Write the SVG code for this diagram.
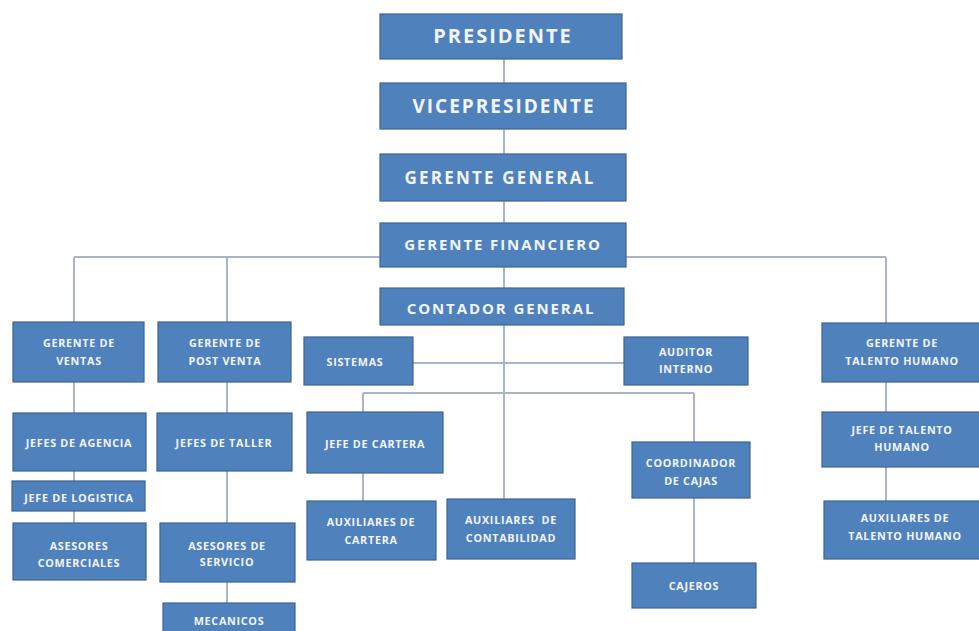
<svg xmlns="http://www.w3.org/2000/svg" width="979" height="631" viewBox="0 0 979 631">
<style>
.n rect{fill:#4F81BD;stroke:#3B6593;stroke-width:1.2}
.n text{fill:#F2F5FA;font-family:"Open Sans","Liberation Sans",sans-serif;font-weight:bold;text-anchor:middle;white-space:pre}
.s text{font-size:10.8px;letter-spacing:0.7px}
.c line{stroke:#A9B6C9;stroke-width:2}
</style>
<rect width="979" height="631" fill="#FFFFFF"/>
<g id="connectors" class="c">
<line x1="504" y1="59" x2="504" y2="499"/>
<line x1="74" y1="257" x2="886" y2="257"/>
<line x1="74" y1="257" x2="74" y2="523"/>
<line x1="227" y1="257" x2="227" y2="603"/>
<line x1="886" y1="257" x2="886" y2="501"/>
<line x1="413" y1="363" x2="624" y2="363"/>
<line x1="363" y1="393" x2="694" y2="393"/>
<line x1="363" y1="393" x2="363" y2="501"/>
<line x1="694" y1="393" x2="694" y2="563"/>
</g>
<g id="presidente" class="n"><rect x="380" y="14" width="242" height="45"/><text x="503" y="43" font-size="20" letter-spacing="2">PRESIDENTE</text></g>
<g id="vicepresidente" class="n"><rect x="380" y="83" width="246" height="46"/><text x="504" y="113" font-size="19" letter-spacing="2">VICEPRESIDENTE</text></g>
<g id="gerente-general" class="n"><rect x="380" y="154" width="246" height="47"/><text x="500" y="184" font-size="17" letter-spacing="2.2">GERENTE GENERAL</text></g>
<g id="gerente-financiero" class="n"><rect x="380" y="223" width="246" height="44"/><text x="503" y="250" font-size="15" letter-spacing="1.9">GERENTE FINANCIERO</text></g>
<g id="contador-general" class="n"><rect x="380" y="288" width="244" height="37"/><text x="501" y="314" font-size="15" letter-spacing="1.9">CONTADOR GENERAL</text></g>
<g id="gerente-ventas" class="n s"><rect x="13" y="322" width="131" height="60"/><text x="79" y="347">GERENTE DE</text><text x="79" y="365">VENTAS</text></g>
<g id="gerente-post-venta" class="n s"><rect x="158" y="322" width="133" height="60"/><text x="225" y="347">GERENTE DE</text><text x="225" y="365">POST VENTA</text></g>
<g id="jefes-agencia" class="n s"><rect x="13" y="413" width="133" height="58"/><text x="79" y="447">JEFES DE AGENCIA</text></g>
<g id="jefes-taller" class="n s"><rect x="157" y="413" width="135" height="58"/><text x="224" y="447">JEFES DE TALLER</text></g>
<g id="jefe-logistica" class="n s"><rect x="12" y="481" width="133" height="30"/><text x="79" y="502">JEFE DE LOGISTICA</text></g>
<g id="asesores-comerciales" class="n s"><rect x="13" y="523" width="133" height="57"/><text x="79" y="550">ASESORES</text><text x="79" y="567">COMERCIALES</text></g>
<g id="asesores-servicio" class="n s"><rect x="160" y="523" width="135" height="59"/><text x="227" y="550">ASESORES DE</text><text x="227" y="566">SERVICIO</text></g>
<g id="mecanicos" class="n s"><rect x="163" y="603" width="132" height="34"/><text x="229" y="625">MECANICOS</text></g>
<g id="sistemas" class="n s"><rect x="304" y="337" width="109" height="48"/><text x="355" y="366">SISTEMAS</text></g>
<g id="auditor-interno" class="n s"><rect x="624" y="337" width="124" height="48"/><text x="686" y="356">AUDITOR</text><text x="686" y="373">INTERNO</text></g>
<g id="jefe-cartera" class="n s"><rect x="307" y="412" width="136" height="61"/><text x="375" y="448">JEFE DE CARTERA</text></g>
<g id="auxiliares-cartera" class="n s"><rect x="307" y="501" width="129" height="59"/><text x="371" y="526">AUXILIARES DE</text><text x="371" y="544">CARTERA</text></g>
<g id="auxiliares-contabilidad" class="n s"><rect x="447" y="499" width="128" height="60"/><text x="511" y="524">AUXILIARES  DE</text><text x="511" y="542">CONTABILIDAD</text></g>
<g id="coordinador-cajas" class="n s"><rect x="632" y="442" width="118" height="56"/><text x="691" y="467">COORDINADOR</text><text x="691" y="485">DE CAJAS</text></g>
<g id="cajeros" class="n s"><rect x="632" y="563" width="124" height="45"/><text x="694" y="590">CAJEROS</text></g>
<g id="gerente-talento" class="n s"><rect x="822" y="323" width="160" height="59"/><text x="902" y="347">GERENTE DE</text><text x="902" y="365">TALENTO HUMANO</text></g>
<g id="jefe-talento" class="n s"><rect x="822" y="412" width="160" height="55"/><text x="902" y="434">JEFE DE TALENTO</text><text x="902" y="451">HUMANO</text></g>
<g id="auxiliares-talento" class="n s"><rect x="824" y="501" width="158" height="58"/><text x="905" y="522">AUXILIARES DE</text><text x="905" y="540">TALENTO HUMANO</text></g>
</svg>
